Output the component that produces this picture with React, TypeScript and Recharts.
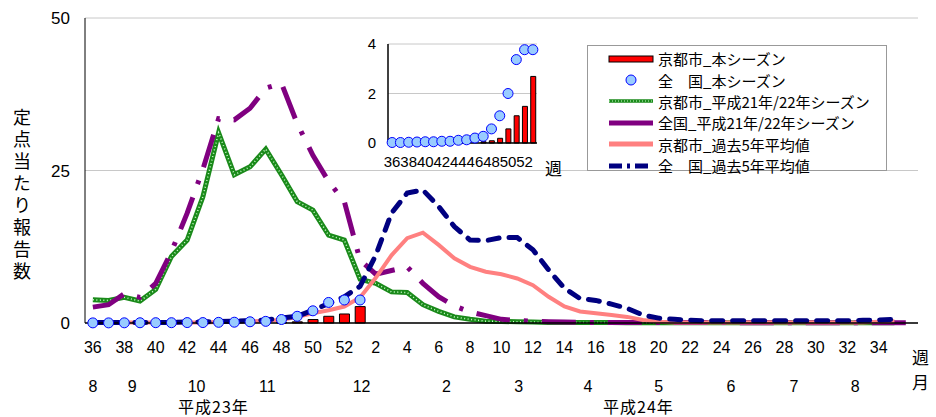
import { ComposedChart, Bar, Line, XAxis, YAxis, CartesianGrid } from "recharts";

// week numbers, 平成23年36週 .. 平成24年36週
const weeks = [
  36, 37, 38, 39, 40, 41, 42, 43, 44, 45, 46, 47, 48, 49, 50, 51, 52,
  1, 2, 3, 4, 5, 6, 7, 8, 9, 10, 11, 12, 13, 14, 15, 16, 17, 18, 19, 20,
  21, 22, 23, 24, 25, 26, 27, 28, 29, 30, 31, 32, 33, 34, 35, 36,
];

// this season (weeks 36..1 only)
const kyotoNow = [
  null, null, null, null, null, null, null, null, null, null, null,
  0.05, 0.09, 0.19, 0.57, 1.1, 1.48, 2.69,
];
const nationalNow = [
  0.02, 0.02, 0.03, 0.04, 0.05, 0.05, 0.07, 0.07, 0.11, 0.13, 0.2, 0.27,
  0.57, 1.1, 2.0, 3.37, 3.77, 3.77,
];

// 平成21年/22年シーズン
const kyotoPrev = [
  3.8, 3.7, 4.2, 3.6, 5.5, 10.9, 13.6, 20.7, 31.2, 24.3, 25.6, 28.5, 24.3,
  19.9, 18.5, 14.4, 13.6, 7.2, 6.5, 5.1, 5.0, 3.0, 1.9, 1.0, 0.6, 0.3, 0.25,
  0.2, 0.15, 0.1, 0.1, 0.1, 0.1, 0.1, 0.05, 0.05, 0.05, 0.05, 0.05, 0.05,
  0.05, 0.05, 0.05, 0.05, 0.05, 0.05, 0.05, 0.05, 0.05, 0.05, 0.05, 0.05, null,
];
const nationalPrev = [
  2.6, 3.0, 4.8, 4.2, 6.5, 11.7, 18.0, 25.2, 33.5, 33.3, 35.2, 38.5, 39.3,
  32.7, 27.5, 23.2, 19.9, 10.3, 8.0, 8.6, 9.2, 6.5, 4.3, 2.8, 1.8, 1.2, 0.6,
  0.4, 0.3, 0.2, 0.15, 0.1, 0.1, 0.1, 0.1, 0.1, 0.1, 0.1, 0.1, 0.1, 0.1,
  0.05, 0.05, 0.05, 0.05, 0.05, 0.05, 0.05, 0.05, 0.05, 0.05, 0.05, 0.05,
];

// 過去5年平均値
const kyotoAvg = [
  0.1, 0.1, 0.1, 0.1, 0.1, 0.1, 0.1, 0.1, 0.15, 0.2, 0.25, 0.35, 0.5, 1.0,
  1.6, 2.1, 2.7, 4.2, 7.4, 11.1, 13.9, 14.8, 12.8, 10.6, 9.2, 8.4, 8.0, 7.3,
  6.2, 4.3, 2.7, 1.9, 1.6, 1.3, 1.0, 0.5, 0.2, 0.1, 0.1, 0.1, 0.1, 0.1, 0.1,
  0.1, 0.1, 0.1, 0.1, 0.1, 0.1, 0.1, 0.2, 0.3, null,
];
const nationalAvg = [
  0.1, 0.1, 0.1, 0.1, 0.1, 0.1, 0.15, 0.2, 0.25, 0.3, 0.4, 0.5, 0.8, 1.1,
  2.1, 3.2, 4.3, 6.0, 11.1, 18.0, 21.3, 21.8, 19.1, 15.8, 13.6, 13.5, 14.0,
  14.0, 12.0, 8.7, 5.7, 4.0, 3.7, 3.1, 2.4, 1.3, 0.8, 0.6, 0.45, 0.35, 0.35,
  0.35, 0.35, 0.35, 0.35, 0.35, 0.35, 0.35, 0.35, 0.45, 0.5, 0.6, null,
];

// month labels under the week axis (position in weeks from the first one)
const monthLabels = ["8", "9", "10", "11", "12", "2", "3", "4", "5", "6", "7", "8"];
const monthPos = [0, 2.5, 6.6, 11.1, 17.1, 22.5, 27.1, 31.5, 36, 40.6, 44.6, 48.5];

const data = weeks.map((w, i) => ({
  idx: i,
  week: w,
  kyotoNow: kyotoNow[i] ?? null,
  nationalNow: nationalNow[i] ?? null,
  kyotoPrev: kyotoPrev[i],
  nationalPrev: nationalPrev[i],
  kyotoAvg: kyotoAvg[i],
  nationalAvg: nationalAvg[i],
}));
const insetData = data.slice(0, nationalNow.length);

const NUM = '"Liberation Sans", Arial, "Noto Sans CJK JP", sans-serif';
const JP = '"Noto Sans CJK JP", sans-serif';

const legendRows = [
  { name: "京都市_本シーズン", kind: "bar" },
  { name: "全　国_本シーズン", kind: "dot" },
  { name: "京都市_平成21年/22年シーズン", kind: "green" },
  { name: "全国_平成21年/22年シーズン", kind: "purple" },
  { name: "京都市_過去5年平均値", kind: "pink" },
  { name: "全　国_過去5年平均値", kind: "navy" },
];

function LegendIcon({ kind }: { kind: string }) {
  return (
    <svg width={66} height={20} style={{ flex: "none" }}>
      {kind === "bar" && <rect x={21} y={7} width={44} height={6} fill="#ff0000" stroke="#000" />}
      {kind === "dot" && <circle cx={43} cy={10} r={5} fill="#99ccff" stroke="#0000ff" />}
      {kind === "green" && (
        <>
          <line x1={21} y1={10} x2={65} y2={10} stroke="#1a8a1a" strokeWidth={3.5} />
          <line x1={21} y1={10} x2={65} y2={10} stroke="#ccffcc" strokeWidth={1.2} strokeDasharray="1 2" />
        </>
      )}
      {kind === "purple" && <line x1={21} y1={10} x2={65} y2={10} stroke="#800080" strokeWidth={5} />}
      {kind === "pink" && <line x1={21} y1={10} x2={65} y2={10} stroke="#ff8080" strokeWidth={5} />}
      {kind === "navy" && (
        <line x1={21} y1={10} x2={65} y2={10} stroke="#000080" strokeWidth={5} strokeDasharray="13 5 3 5" />
      )}
    </svg>
  );
}

export default function App() {
  return (
    <div style={{ position: "absolute", left: 0, top: 0, width: 936, height: 417, background: "#fff" }}>
      <ComposedChart
        width={936}
        height={417}
        data={data}
        margin={{ top: 18, right: 18, left: 0, bottom: 9 }}
      >
        <CartesianGrid vertical={false} stroke="#c8c8c8" />
        <XAxis
          dataKey="idx"
          type="category"
          interval={1}
          height={45}
          tickLine={false}
          tickSize={0}
          tickMargin={19}
          axisLine={{ stroke: "#000", strokeWidth: 1.5 }}
          tick={{ fill: "#000", fontSize: 16, fontFamily: NUM }}
          tickFormatter={(v: number) => (v === weeks.length - 1 ? "" : String(weeks[v]))}
        />
        <XAxis
          xAxisId="month"
          dataKey="idx"
          type="number"
          domain={[-0.5, weeks.length - 0.5]}
          allowDataOverflow
          ticks={monthPos}
          interval={0}
          height={40}
          axisLine={false}
          tickLine={false}
          tickSize={0}
          tickMargin={13}
          tick={{ fill: "#000", fontSize: 16, fontFamily: NUM }}
          tickFormatter={(v: number) => monthLabels[monthPos.indexOf(v)] ?? ""}
        />
        <XAxis xAxisId="top" dataKey="idx" orientation="top" height={0} tick={false} tickLine={false} axisLine={{ stroke: "#000" }} />
        <YAxis
          domain={[0, 50]}
          ticks={[0, 25, 50]}
          width={85}
          tickLine={false}
          tickSize={0}
          tickMargin={15}
          axisLine={{ stroke: "#000" }}
          tick={{ fill: "#000", fontSize: 17, fontFamily: NUM }}
        />
        <YAxis yAxisId="r" orientation="right" width={0} tick={false} tickLine={false} axisLine={{ stroke: "#000" }} />
        <Bar dataKey="kyotoNow" fill="#ff0000" stroke="#000" strokeWidth={1} barSize={10} isAnimationActive={false} />
        <Line dataKey="kyotoPrev" stroke="#1a8a1a" strokeWidth={5} dot={false} activeDot={false} isAnimationActive={false} />
        <Line dataKey="kyotoPrev" stroke="#ccffcc" strokeWidth={1.5} strokeDasharray="1 2.5" dot={false} activeDot={false} isAnimationActive={false} />
        <Line dataKey="nationalPrev" stroke="#800080" strokeWidth={5} strokeDasharray="34 14 4 14" dot={false} activeDot={false} isAnimationActive={false} />
        <Line dataKey="kyotoAvg" stroke="#ff8080" strokeWidth={4} dot={false} activeDot={false} isAnimationActive={false} />
        <Line dataKey="nationalAvg" stroke="#000080" strokeWidth={5} strokeDasharray="11 10" strokeLinecap="round" dot={false} activeDot={false} isAnimationActive={false} />
        <Line
          dataKey="nationalNow"
          stroke="none"
          dot={{ r: 5, fill: "#99ccff", stroke: "#0000ff", strokeWidth: 1 }}
          activeDot={false}
          isAnimationActive={false}
        />
      </ComposedChart>

      {/* inset: this season close-up */}
      <div style={{ position: "absolute", left: 340, top: 32 }}>
        <ComposedChart width={210} height={140} data={insetData} margin={{ top: 12, right: 13, left: 0, bottom: 4 }}>
          <CartesianGrid vertical={false} stroke="#c8c8c8" />
          <XAxis
            dataKey="idx"
            type="category"
            interval={1}
            height={25}
            tickLine={false}
            tickSize={0}
            tickMargin={13}
            axisLine={{ stroke: "#000", strokeWidth: 1.5 }}
            tick={{ fill: "#000", fontSize: 15, fontFamily: NUM }}
            tickFormatter={(v: number) => String(weeks[v])}
          />
          <XAxis xAxisId="top" dataKey="idx" orientation="top" height={0} tick={false} tickLine={false} axisLine={{ stroke: "#000", strokeWidth: 1.5 }} />
          <YAxis
            domain={[0, 4]}
            ticks={[0, 2, 4]}
            width={48}
            tickLine={false}
            tickSize={0}
            tickMargin={12}
            axisLine={{ stroke: "#000", strokeWidth: 1.5 }}
            tick={{ fill: "#000", fontSize: 15, fontFamily: NUM }}
          />
          <YAxis yAxisId="r" orientation="right" width={0} tick={false} tickLine={false} axisLine={{ stroke: "#000", strokeWidth: 1.5 }} />
          <Bar dataKey="kyotoNow" fill="#ff0000" stroke="#000" strokeWidth={1} barSize={5} isAnimationActive={false} />
          <Line
            dataKey="nationalNow"
            stroke="none"
            dot={{ r: 5, fill: "#99ccff", stroke: "#0000ff", strokeWidth: 1 }}
            activeDot={false}
            isAnimationActive={false}
          />
        </ComposedChart>
      </div>

      <div style={{ position: "absolute", left: 545, top: 158, fontSize: 17, fontFamily: JP, lineHeight: "20px" }}>週</div>

      {/* legend */}
      <div
        style={{
          position: "absolute",
          left: 587,
          top: 45,
          width: 300,
          height: 126,
          border: "1px solid #999",
          background: "#fff",
          paddingTop: 2,
          boxSizing: "border-box",
        }}
      >
        {legendRows.map((r) => (
          <div key={r.name} style={{ display: "flex", alignItems: "center", height: 21.4 }}>
            <LegendIcon kind={r.kind} />
            <span style={{ fontSize: 15, fontFamily: JP, whiteSpace: "nowrap", marginLeft: 4 }}>{r.name}</span>
          </div>
        ))}
      </div>

      {/* axis titles */}
      <div
        style={{
          position: "absolute",
          left: 13,
          top: 108,
          writingMode: "vertical-rl",
          fontSize: 18,
          letterSpacing: 4,
          fontFamily: JP,
          lineHeight: "18px",
        }}
      >
        定点当たり報告数
      </div>
      <div style={{ position: "absolute", left: 912, top: 347, fontSize: 17, fontFamily: JP, lineHeight: "20px" }}>週</div>
      <div style={{ position: "absolute", left: 912, top: 372, fontSize: 17, fontFamily: JP, lineHeight: "20px" }}>月</div>
      <div style={{ position: "absolute", left: 178, top: 398, fontSize: 16, letterSpacing: 1, fontFamily: JP, lineHeight: "16px" }}>平成23年</div>
      <div style={{ position: "absolute", left: 603, top: 398, fontSize: 16, letterSpacing: 1, fontFamily: JP, lineHeight: "16px" }}>平成24年</div>
    </div>
  );
}
